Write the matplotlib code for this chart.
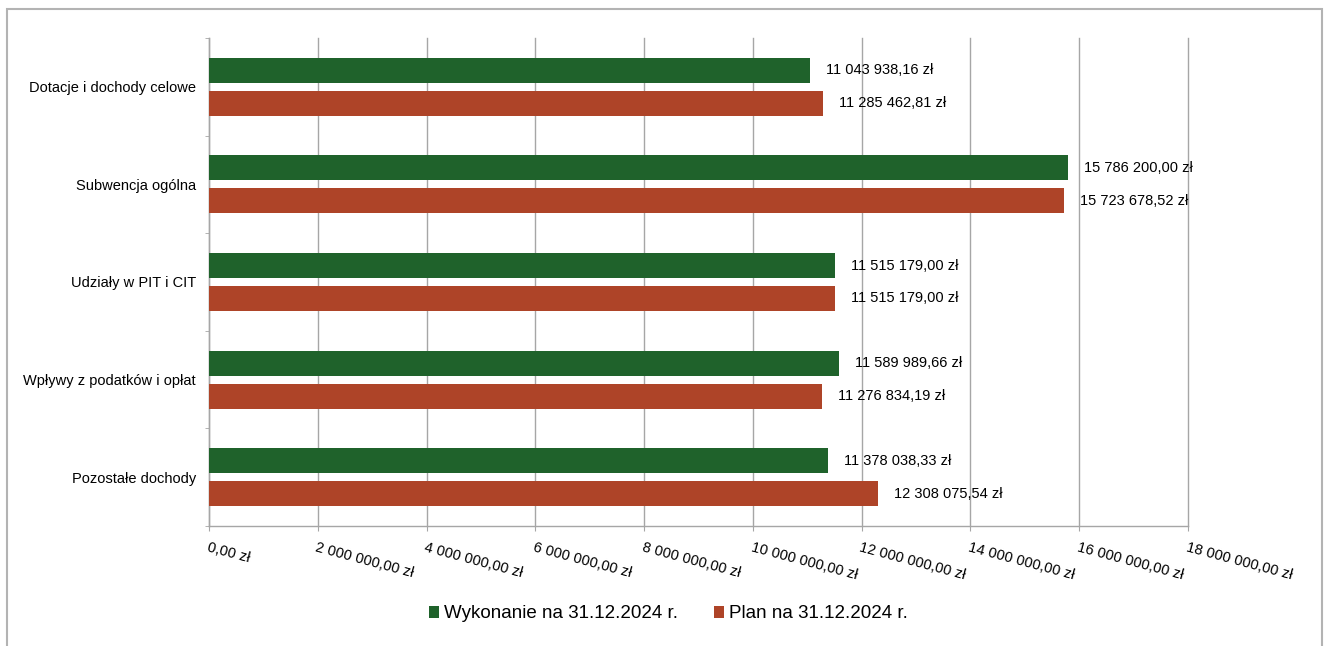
import numpy as np
import matplotlib
matplotlib.use("Agg")
import matplotlib.pyplot as plt
from matplotlib.patches import Rectangle

plt.rcParams['font.family'] = ['Liberation Sans', 'DejaVu Sans']

categories = ["Dotacje i dochody celowe", "Subwencja ogólna", "Udziały w PIT i CIT",
              "Wpływy z podatków i opłat", "Pozostałe dochody"]
wykonanie = [11043938.16, 15786200.00, 11515179.00, 11589989.66, 11378038.33]
plan = [11285462.81, 15723678.52, 11515179.00, 11276834.19, 12308075.54]
series_names = ["Wykonanie na 31.12.2024 r.", "Plan na 31.12.2024 r."]
green = "#1f622b"
red = "#ae4428"
grid_c = "#a6a6a6"


def zl(v):
    s = f"{v:,.2f}"
    s = s.replace(",", " ").replace(".", ",")
    return s + " zł"


fig = plt.figure(figsize=(13.24, 6.46), dpi=100)
ax = fig.add_axes([209/1324, 1-526/646, (1188-209)/1324, (526-38)/646])

y = np.arange(len(categories))
off = 0.169
h = 0.256
b1 = ax.barh(y - off, wykonanie, height=h, color=green, label=series_names[0], zorder=3)
b2 = ax.barh(y + off, plan, height=h, color=red, label=series_names[1], zorder=3)

for bars, vals in ((b1, wykonanie), (b2, plan)):
    for bar, v in zip(bars, vals):
        ax.annotate(zl(v), (v, bar.get_y() + bar.get_height()/2), xytext=(11.5, 0),
                    textcoords="offset points", va="center", ha="left", fontsize=10.5)

ax.set_xlim(0, 18e6)
ax.set_ylim(len(categories) - 0.5, -0.5)
xt = np.arange(0, 18e6 + 1, 2e6)
ax.set_xticks(xt)
ax.set_xticklabels([zl(v) for v in xt], rotation=-15, ha="left", va="top",
                   rotation_mode="anchor", fontsize=10.5)
ax.tick_params(axis="x", length=3.6, color=grid_c, pad=7)
ax.set_yticks(y)
ax.set_yticklabels(categories, fontsize=10.5)
ax.set_yticks(np.arange(-0.5, len(categories)), minor=True)
ax.tick_params(axis="y", which="major", length=0, pad=9.5)
ax.tick_params(axis="y", which="minor", length=3, color=grid_c)
ax.grid(axis="x", color=grid_c, linewidth=1, zorder=0)
for gl in ax.get_xgridlines():
    gl.set_clip_on(False)
for s in ("top", "right"):
    ax.spines[s].set_visible(False)
for s in ("left", "bottom"):
    ax.spines[s].set_color(grid_c)
    ax.spines[s].set_linewidth(1)

fig.legend(loc="center", bbox_to_anchor=(0.5049, 1-614/646), ncol=2, frameon=False,
           fontsize=13.5, handlelength=0.55, handleheight=0.55, handletextpad=0.25,
           columnspacing=1.92)

fig.patches.append(Rectangle((7/1324, -0.02), (1322-7)/1324, 1.02-9/646,
                             transform=fig.transFigure, fill=False,
                             edgecolor="#b3b3b3", linewidth=1.5))

fig.savefig("out.png", dpi=100)
